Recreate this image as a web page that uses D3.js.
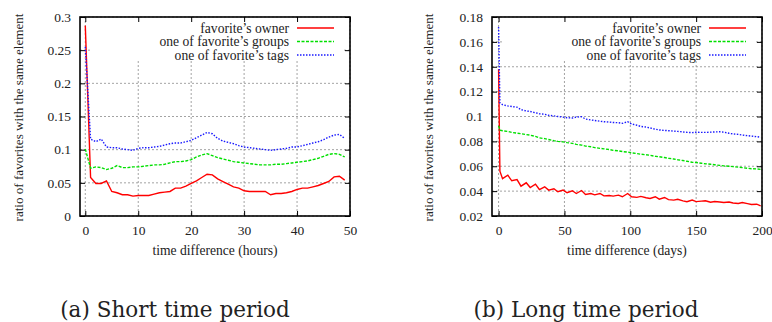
<!DOCTYPE html>
<html>
<head>
<meta charset="utf-8">
<script src="https://cdn.jsdelivr.net/npm/d3@7"></script>
<style>
  body { margin: 0; background: #fff; }
  svg { display: block; }
  svg text { font-family: "Liberation Serif", "DejaVu Serif", "Noto Serif", Tinos, "Times New Roman", Times, serif; }
  svg text.caption { font-family: "DejaVu Serif", "Liberation Serif", serif; }
</style>
</head>
<body>
<svg id="chart" width="772" height="322"></svg>
<script>
// ---- data ----
const seriesNames = ["favorite’s owner", "one of favorite’s groups", "one of favorite’s tags"];

// (a) short period, hourly
const hours = [0,1,2,3,4,5,6,7,8,9,10,11,12,13,14,15,16,17,18,19,20,21,22,23,24,
  25,26,27,28,29,30,31,32,33,34,35,36,37,38,39,40,41,42,43,44,45,46,47,48,49];
const shortOwner = [0.287,0.058,0.049,0.049,0.053,0.037,0.035,0.032,0.032,0.030,
  0.031,0.031,0.031,0.033,0.035,0.036,0.037,0.042,0.042,0.045,
  0.049,0.053,0.058,0.063,0.062,0.056,0.052,0.048,0.044,0.042,
  0.038,0.037,0.037,0.037,0.037,0.032,0.034,0.034,0.035,0.037,
  0.040,0.042,0.042,0.044,0.046,0.049,0.052,0.059,0.060,0.054];
const shortGroups = [0.101,0.072,0.074,0.073,0.070,0.072,0.076,0.073,0.073,0.074,
  0.074,0.075,0.076,0.077,0.077,0.078,0.080,0.082,0.082,0.083,
  0.085,0.089,0.092,0.094,0.091,0.088,0.086,0.084,0.082,0.081,
  0.080,0.079,0.078,0.077,0.077,0.077,0.078,0.078,0.079,0.080,
  0.081,0.082,0.083,0.085,0.087,0.090,0.093,0.094,0.093,0.089];
const shortTags = [0.255,0.116,0.112,0.116,0.104,0.103,0.103,0.101,0.100,0.099,
  0.102,0.103,0.103,0.104,0.105,0.107,0.109,0.110,0.110,0.112,
  0.114,0.118,0.122,0.126,0.124,0.117,0.113,0.111,0.109,0.106,
  0.104,0.103,0.102,0.101,0.100,0.099,0.100,0.101,0.102,0.104,
  0.104,0.106,0.108,0.110,0.112,0.115,0.119,0.122,0.123,0.117];

// (b) long period, days
const days = [0,1,3,7,10,14,17,21,24,28,31,35,38,42,45,49,52,56,59,63,66,70,73,77,80,84,87,91,94,98,
  101,105,108,112,115,119,122,126,129,133,136,140,143,147,150,154,157,161,164,168,171,175,178,182,185,189,192,196,199];
const longOwner = [0.138,0.056,0.0500,0.0528,0.0483,0.0493,0.0440,0.0467,0.0429,0.0456,
  0.0413,0.0435,0.0408,0.0419,0.0395,0.0408,0.0387,0.0403,0.0381,0.0405,
  0.0373,0.0381,0.0370,0.0381,0.0362,0.0365,0.0360,0.0368,0.0355,0.0381,
  0.0355,0.0350,0.0358,0.0347,0.0341,0.0355,0.0335,0.0349,0.0332,0.0328,
  0.0335,0.0322,0.0315,0.0328,0.0316,0.0320,0.0322,0.0311,0.0316,0.0312,
  0.0308,0.0312,0.0305,0.0301,0.0308,0.0300,0.0293,0.0295,0.0282];
const longGroups = [0.0925,0.0890,0.0885,0.0880,0.0872,0.0866,0.0862,0.0855,0.0850,0.0840,
  0.0828,0.0822,0.0815,0.0806,0.0800,0.0796,0.0790,0.0784,0.0776,0.0770,
  0.0762,0.0757,0.0750,0.0744,0.0740,0.0734,0.0728,0.0724,0.0718,0.0714,
  0.0708,0.0702,0.0697,0.0692,0.0688,0.0680,0.0676,0.0670,0.0664,0.0658,
  0.0652,0.0646,0.0640,0.0632,0.0630,0.0624,0.0620,0.0616,0.0612,0.0607,
  0.0603,0.0600,0.0597,0.0593,0.0589,0.0584,0.0580,0.0579,0.0575];
const longTags = [0.172,0.1110,0.1095,0.1085,0.1080,0.1075,0.1055,0.1045,0.1040,0.1030,
  0.1022,0.1018,0.1010,0.1005,0.1000,0.0995,0.0990,0.0988,0.0995,0.0998,
  0.0980,0.0972,0.0968,0.0962,0.0958,0.0955,0.0952,0.0950,0.0945,0.0958,
  0.0940,0.0930,0.0920,0.0915,0.0908,0.0898,0.0892,0.0888,0.0886,0.0883,
  0.0880,0.0876,0.0873,0.0870,0.0874,0.0872,0.0872,0.0874,0.0876,0.0877,
  0.0874,0.0865,0.0860,0.0856,0.0851,0.0846,0.0842,0.0838,0.0833];

const shortXTicks = [0,10,20,30,40,50];
const shortYTicks = [0,0.05,0.1,0.15,0.2,0.25,0.3];
const longXTicks = [0,50,100,150,200];
const longYTicks = [0.02,0.04,0.06,0.08,0.1,0.12,0.14,0.16,0.18];

// ---- drawing ----
const svg = d3.select("#chart");
const styles = [
  { color: "#ff0000", dash: null, width: 1.4 },
  { color: "#00e000", dash: "3,1.5", width: 1.4 },
  { color: "#1a1aff", dash: "1.5,1.5", width: 1.4 }
];

function drawPanel(cfg) {
  const g = svg.append("g");
  const x = d3.scaleLinear().domain(cfg.xDomain).range([cfg.left, cfg.right]);
  const y = d3.scaleLinear().domain(cfg.yDomain).range([cfg.bottom, cfg.top]);
  const h = cfg.bottom - cfg.top, w = cfg.right - cfg.left;

  // grid
  const grid = g.append("g").attr("stroke", "#8c8c8c").attr("stroke-width", 0.8)
    .attr("stroke-dasharray", "2,2");
  grid.selectAll(".vx").data(cfg.xTicks).join("line")
    .attr("x1", d => x(d)).attr("x2", d => x(d))
    .attr("y1", cfg.top).attr("y2", cfg.bottom);
  grid.selectAll(".hy").data(cfg.yTicks).join("line")
    .attr("x1", cfg.left).attr("x2", cfg.right)
    .attr("y1", d => y(d)).attr("y2", d => y(d));

  // opaque key area
  g.append("rect").attr("x", cfg.left + 12).attr("y", cfg.top + 1)
    .attr("width", w - 18).attr("height", 43).attr("fill", "#fff");

  // axes with inward ticks
  const fmt = d => String(+d.toFixed(2));
  const axB = g.append("g").attr("transform", `translate(0,${cfg.bottom})`)
    .call(d3.axisBottom(x).tickValues(cfg.xTicks).tickSize(-5).tickPadding(9).tickFormat(fmt));
  const axL = g.append("g").attr("transform", `translate(${cfg.left},0)`)
    .call(d3.axisLeft(y).tickValues(cfg.yTicks).tickSize(-5).tickPadding(9).tickFormat(fmt));
  const axR = g.append("g").attr("transform", `translate(${cfg.right},0)`)
    .call(d3.axisRight(y).tickValues(cfg.yTicks).tickSize(-5).tickFormat(""));
  const axT = g.append("g").attr("transform", `translate(0,${cfg.top})`)
    .call(d3.axisTop(x).tickValues(cfg.xTicks).tickSize(-5).tickFormat(""));
  [axB, axL, axR, axT].forEach(a => {
    a.attr("font-family", null);
    a.select(".domain").remove();
    a.selectAll("line").attr("stroke", "#000");
    a.selectAll("text").attr("font-size", 13.5).attr("fill", "#222");
  });

  // frame
  g.append("rect").attr("x", cfg.left).attr("y", cfg.top).attr("width", w).attr("height", h)
    .attr("fill", "none").attr("stroke", "#000").attr("stroke-width", 1.6);

  // series
  const line = d3.line().x(d => x(d[0])).y(d => y(d[1]));
  cfg.series.forEach((vals, i) => {
    const pts = cfg.xs.map((xv, k) => [xv, vals[k]]);
    g.append("path").datum(pts).attr("d", line).attr("fill", "none")
      .attr("stroke", styles[i].color).attr("stroke-width", styles[i].width)
      .attr("stroke-dasharray", styles[i].dash);
  });

  // legend
  seriesNames.forEach((name, i) => {
    const ly = cfg.top + 11 + i * 13.5;
    g.append("text").attr("x", cfg.legendX).attr("y", ly).attr("dy", "0.35em")
      .attr("text-anchor", "end").attr("font-size", 13.6)
      .attr("fill", "#222").text(name);
    g.append("line").attr("x1", cfg.legendX + 8).attr("x2", cfg.legendX + 45)
      .attr("y1", ly).attr("y2", ly).attr("stroke", styles[i].color)
      .attr("stroke-width", styles[i].width).attr("stroke-dasharray", styles[i].dash);
  });

  // axis titles
  g.append("text").attr("x", (cfg.left + cfg.right) / 2).attr("y", cfg.bottom + 39)
    .attr("text-anchor", "middle").attr("font-size", 13.6)
    .attr("fill", "#222").text(cfg.xTitle);
  g.append("text").attr("transform", `translate(${cfg.yTitleX},${(cfg.top + cfg.bottom) / 2 + 1}) rotate(-90)`)
    .attr("text-anchor", "middle").attr("dy", "0.35em")
    .attr("font-size", 13.1).attr("fill", "#222").text("ratio of favorites with the same element");

  // caption
  svg.append("text").attr("class", "caption").attr("x", cfg.captionX).attr("y", 317)
    .attr("text-anchor", "middle").attr("font-size", 21.5)
    .attr("fill", "#222").text(cfg.caption);
}

drawPanel({
  left: 80, right: 350, top: 17, bottom: 216,
  xDomain: [-1, 50], yDomain: [0, 0.3],
  xTicks: shortXTicks, yTicks: shortYTicks,
  xs: hours, series: [shortOwner, shortGroups, shortTags],
  legendX: 289, xTitle: "time difference (hours)", yTitleX: 18,
  caption: "(a) Short time period", captionX: 175
});

drawPanel({
  left: 492, right: 762, top: 17, bottom: 216,
  xDomain: [-5, 200], yDomain: [0.02, 0.18],
  xTicks: longXTicks, yTicks: longYTicks,
  xs: days, series: [longOwner, longGroups, longTags],
  legendX: 701, xTitle: "time difference (days)", yTitleX: 428,
  caption: "(b) Long time period", captionX: 586
});
</script>
</body>
</html>
